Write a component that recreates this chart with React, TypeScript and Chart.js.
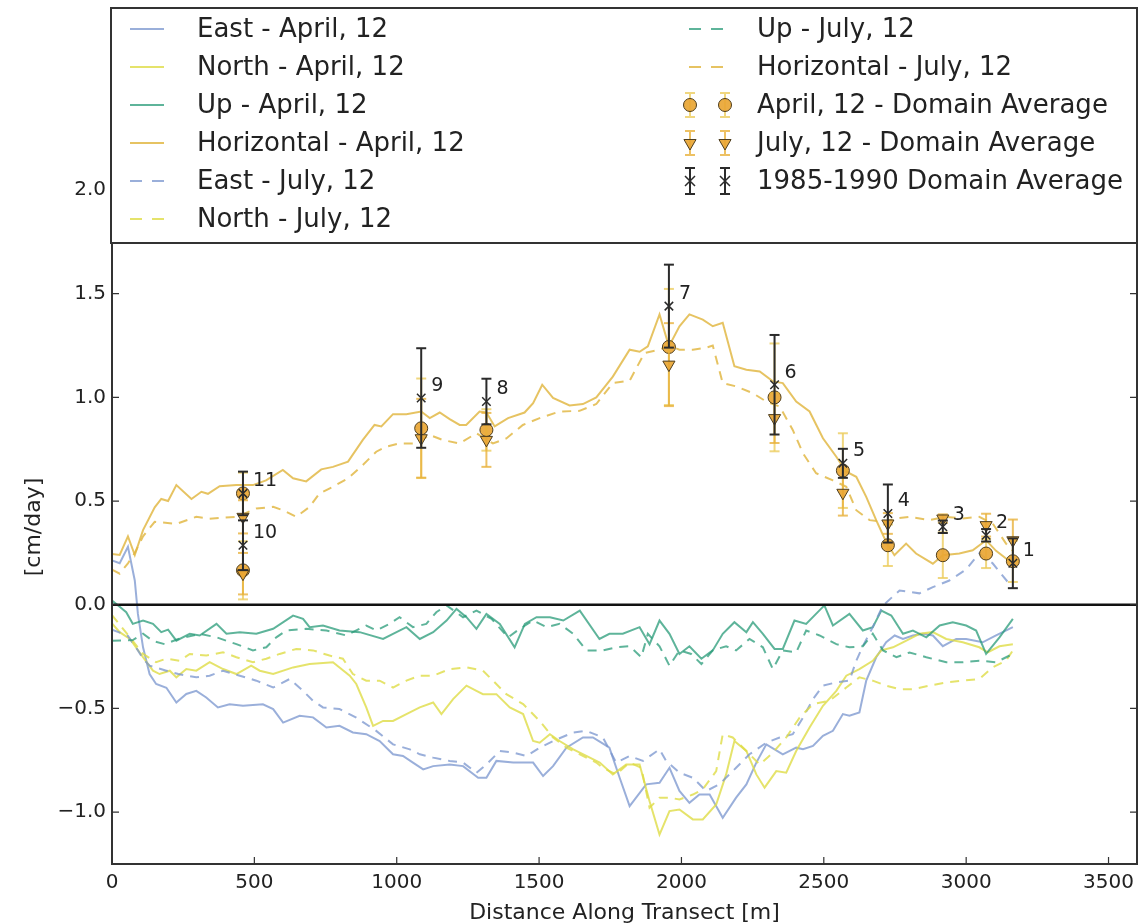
import React, { useEffect, useRef } from 'react';
import { Chart, registerables } from 'chart.js';

Chart.register(...registerables);

// ---------------- DATA ----------------
const xTickValues = [0, 500, 1000, 1500, 2000, 2500, 3000, 3500];
const yTickValues = [-1.0, -0.5, 0.0, 0.5, 1.0, 1.5, 2.0];

// [distance along transect (m), velocity (cm/day)]
const eastApril = [[0,0.214],[27,0.2],[56,0.28],[80,0.117],[91,-0.044],[109,-0.205],[132,-0.334],[155,-0.382],[191,-0.4],[226,-0.471],[261,-0.43],[296,-0.415],[331,-0.447],[372,-0.495],[413,-0.48],[460,-0.487],[530,-0.48],[566,-0.503],[601,-0.568],[659,-0.535],[706,-0.543],[753,-0.592],[799,-0.584],[846,-0.616],[893,-0.624],[940,-0.657],[987,-0.721],[1022,-0.729],[1057,-0.761],[1093,-0.794],[1128,-0.778],[1186,-0.77],[1233,-0.778],[1286,-0.834],[1315,-0.834],[1350,-0.753],[1409,-0.761],[1479,-0.761],[1514,-0.826],[1549,-0.778],[1596,-0.689],[1654,-0.64],[1689,-0.64],[1713,-0.66],[1747,-0.689],[1783,-0.834],[1818,-0.971],[1876,-0.866],[1923,-0.858],[1958,-0.786],[1993,-0.898],[2028,-0.955],[2063,-0.915],[2099,-0.915],[2145,-1.027],[2192,-0.93],[2228,-0.866],[2263,-0.761],[2298,-0.673],[2356,-0.721],[2403,-0.689],[2427,-0.697],[2462,-0.681],[2497,-0.632],[2532,-0.608],[2567,-0.527],[2590,-0.535],[2625,-0.519],[2649,-0.366],[2684,-0.253],[2719,-0.181],[2749,-0.148],[2778,-0.165],[2813,-0.148],[2848,-0.14],[2883,-0.148],[2918,-0.2],[2965,-0.165],[3000,-0.165],[3058,-0.181],[3105,-0.148],[3164,-0.108]];

const northApril = [[0,-0.09],[27,-0.132],[63,-0.165],[109,-0.253],[144,-0.318],[167,-0.334],[203,-0.318],[226,-0.35],[261,-0.31],[296,-0.318],[343,-0.277],[390,-0.31],[437,-0.334],[489,-0.294],[519,-0.318],[566,-0.334],[636,-0.302],[694,-0.286],[776,-0.277],[835,-0.342],[858,-0.382],[893,-0.495],[917,-0.584],[952,-0.56],[987,-0.56],[1034,-0.527],[1081,-0.495],[1128,-0.471],[1157,-0.527],[1198,-0.455],[1245,-0.39],[1280,-0.415],[1303,-0.431],[1350,-0.431],[1397,-0.495],[1444,-0.527],[1479,-0.657],[1502,-0.665],[1538,-0.624],[1572,-0.657],[1620,-0.697],[1666,-0.729],[1713,-0.761],[1759,-0.818],[1806,-0.77],[1853,-0.77],[1888,-0.947],[1923,-1.108],[1958,-0.995],[1993,-0.987],[2040,-1.035],[2075,-1.035],[2122,-0.963],[2157,-0.818],[2186,-0.657],[2228,-0.705],[2263,-0.818],[2292,-0.882],[2333,-0.802],[2368,-0.81],[2403,-0.705],[2450,-0.592],[2497,-0.487],[2544,-0.415],[2579,-0.342],[2625,-0.31],[2672,-0.27],[2702,-0.22],[2743,-0.205],[2790,-0.173],[2836,-0.14],[2883,-0.132],[2930,-0.165],[2988,-0.181],[3046,-0.205],[3076,-0.229],[3117,-0.2],[3164,-0.19]];

const upApril = [[0,0.02],[27,-0.01],[50,-0.036],[73,-0.092],[109,-0.076],[144,-0.092],[173,-0.132],[197,-0.12],[226,-0.173],[273,-0.14],[308,-0.148],[367,-0.092],[402,-0.14],[449,-0.132],[507,-0.14],[566,-0.116],[636,-0.052],[671,-0.068],[694,-0.108],[741,-0.1],[799,-0.124],[870,-0.132],[952,-0.165],[987,-0.14],[1034,-0.108],[1081,-0.165],[1128,-0.132],[1175,-0.076],[1210,-0.02],[1245,-0.06],[1280,-0.116],[1315,-0.044],[1362,-0.092],[1414,-0.205],[1450,-0.092],[1491,-0.06],[1538,-0.06],[1585,-0.076],[1643,-0.028],[1712,-0.165],[1747,-0.14],[1794,-0.14],[1853,-0.108],[1888,-0.19],[1923,-0.076],[1958,-0.14],[1993,-0.237],[2028,-0.2],[2070,-0.26],[2110,-0.22],[2145,-0.14],[2186,-0.084],[2228,-0.132],[2251,-0.084],[2286,-0.14],[2327,-0.213],[2356,-0.213],[2397,-0.076],[2438,-0.092],[2502,-0.003],[2532,-0.1],[2590,-0.044],[2637,-0.124],[2672,-0.108],[2702,-0.028],[2737,-0.052],[2778,-0.14],[2813,-0.124],[2860,-0.157],[2907,-0.1],[2953,-0.084],[3000,-0.1],[3035,-0.124],[3070,-0.237],[3117,-0.157],[3164,-0.068]];

const horizApril = [[0,0.245],[27,0.24],[56,0.33],[80,0.24],[109,0.36],[150,0.47],[173,0.51],[197,0.5],[226,0.577],[279,0.51],[314,0.545],[337,0.535],[378,0.572],[437,0.577],[495,0.577],[541,0.6],[600,0.65],[636,0.61],[682,0.595],[735,0.653],[776,0.665],[829,0.69],[881,0.795],[922,0.867],[946,0.86],[987,0.919],[1034,0.919],[1086,0.932],[1116,0.9],[1151,0.927],[1186,0.895],[1221,0.867],[1244,0.867],[1291,0.932],[1315,0.927],[1344,0.86],[1391,0.9],[1449,0.927],[1479,0.972],[1511,1.061],[1549,0.997],[1607,0.961],[1654,0.968],[1701,1.0],[1759,1.1],[1818,1.23],[1853,1.22],[1882,1.246],[1923,1.4],[1956,1.246],[1993,1.343],[2028,1.4],[2075,1.375],[2110,1.343],[2145,1.36],[2186,1.15],[2228,1.133],[2275,1.125],[2321,1.077],[2356,1.069],[2403,0.98],[2450,0.932],[2497,0.803],[2544,0.714],[2579,0.642],[2614,0.617],[2649,0.52],[2684,0.408],[2719,0.303],[2748,0.239],[2789,0.295],[2824,0.247],[2883,0.198],[2918,0.239],[2976,0.247],[3023,0.263],[3070,0.311],[3105,0.26],[3164,0.198]];

const eastJuly = [[0,-0.12],[56,-0.15],[91,-0.22],[109,-0.26],[132,-0.294],[191,-0.318],[233,-0.334],[296,-0.35],[343,-0.342],[390,-0.318],[449,-0.342],[507,-0.366],[566,-0.399],[624,-0.358],[671,-0.415],[706,-0.463],[741,-0.495],[799,-0.503],[858,-0.544],[928,-0.608],[987,-0.673],[1046,-0.697],[1081,-0.721],[1128,-0.737],[1186,-0.753],[1233,-0.761],[1280,-0.81],[1315,-0.77],[1362,-0.705],[1409,-0.713],[1456,-0.729],[1502,-0.689],[1549,-0.657],[1620,-0.616],[1666,-0.608],[1724,-0.64],[1771,-0.761],[1818,-0.729],[1865,-0.753],[1923,-0.697],[1946,-0.753],[1993,-0.81],[2040,-0.834],[2087,-0.898],[2133,-0.866],[2192,-0.786],[2239,-0.721],[2298,-0.665],[2345,-0.64],[2391,-0.624],[2427,-0.544],[2462,-0.455],[2497,-0.39],[2544,-0.374],[2590,-0.366],[2614,-0.27],[2637,-0.2],[2672,-0.108],[2708,-0.003],[2766,0.069],[2836,0.055],[2883,0.085],[2941,0.117],[3000,0.17],[3046,0.248],[3093,0.2],[3152,0.1],[3164,0.08]];

const northJuly = [[0,-0.05],[63,-0.157],[109,-0.237],[155,-0.277],[191,-0.26],[238,-0.27],[273,-0.237],[331,-0.245],[390,-0.229],[437,-0.253],[495,-0.277],[542,-0.26],[589,-0.237],[647,-0.213],[706,-0.22],[764,-0.245],[811,-0.26],[846,-0.334],[893,-0.366],[940,-0.366],[987,-0.399],[1034,-0.366],[1081,-0.342],[1128,-0.342],[1186,-0.31],[1245,-0.302],[1303,-0.318],[1338,-0.366],[1385,-0.431],[1444,-0.479],[1502,-0.56],[1549,-0.64],[1596,-0.689],[1643,-0.721],[1701,-0.761],[1724,-0.786],[1771,-0.818],[1818,-0.761],[1859,-0.786],[1888,-0.979],[1923,-0.93],[1958,-0.93],[1993,-0.939],[2040,-0.915],[2075,-0.89],[2122,-0.802],[2145,-0.624],[2180,-0.64],[2228,-0.705],[2275,-0.77],[2321,-0.713],[2368,-0.64],[2415,-0.544],[2462,-0.479],[2520,-0.463],[2579,-0.399],[2625,-0.35],[2672,-0.366],[2719,-0.39],[2766,-0.407],[2813,-0.407],[2871,-0.39],[2930,-0.374],[2988,-0.366],[3046,-0.358],[3093,-0.302],[3140,-0.27],[3164,-0.22]];

const upJuly = [[0,-0.173],[73,-0.17],[109,-0.14],[144,-0.175],[185,-0.19],[233,-0.165],[308,-0.14],[367,-0.157],[437,-0.19],[495,-0.22],[542,-0.205],[577,-0.157],[612,-0.124],[682,-0.116],[753,-0.124],[823,-0.148],[893,-0.1],[928,-0.124],[975,-0.092],[1010,-0.06],[1057,-0.108],[1104,-0.092],[1139,-0.036],[1175,-0.003],[1233,-0.06],[1280,-0.028],[1333,-0.068],[1391,-0.157],[1432,-0.116],[1479,-0.076],[1526,-0.108],[1572,-0.092],[1620,-0.14],[1666,-0.22],[1724,-0.22],[1771,-0.205],[1818,-0.2],[1859,-0.253],[1882,-0.14],[1923,-0.2],[1958,-0.294],[1993,-0.22],[2034,-0.237],[2070,-0.286],[2110,-0.22],[2157,-0.2],[2192,-0.22],[2239,-0.165],[2286,-0.205],[2321,-0.31],[2356,-0.22],[2403,-0.23],[2438,-0.124],[2485,-0.148],[2544,-0.19],[2590,-0.205],[2637,-0.2],[2672,-0.14],[2708,-0.22],[2755,-0.253],[2801,-0.23],[2860,-0.253],[2930,-0.277],[2988,-0.277],[3046,-0.27],[3105,-0.277],[3164,-0.237]];

const horizJuly = [[0,0.17],[27,0.15],[56,0.2],[80,0.25],[109,0.33],[150,0.4],[226,0.39],[296,0.424],[343,0.415],[437,0.424],[507,0.464],[566,0.472],[600,0.456],[647,0.424],[694,0.472],[729,0.537],[776,0.569],[829,0.61],[881,0.674],[928,0.738],[963,0.762],[1010,0.778],[1069,0.778],[1116,0.819],[1163,0.794],[1221,0.778],[1280,0.827],[1338,0.778],[1385,0.802],[1443,0.867],[1502,0.9],[1572,0.932],[1642,0.935],[1701,0.968],[1759,1.069],[1818,1.08],[1870,1.214],[1923,1.23],[1956,1.25],[1993,1.23],[2040,1.23],[2087,1.24],[2110,1.25],[2145,1.069],[2192,1.053],[2251,1.02],[2298,0.98],[2345,0.956],[2391,0.843],[2427,0.73],[2473,0.634],[2532,0.6],[2579,0.569],[2614,0.456],[2661,0.408],[2708,0.4],[2755,0.416],[2801,0.424],[2871,0.408],[2930,0.424],[2988,0.416],[3046,0.424],[3093,0.392],[3140,0.295],[3164,0.26]];

// Domain averages at sites 1..11
const siteLabels = ['1', '2', '3', '4', '5', '6', '7', '8', '9', '10', '11'];
const siteDist = [3164, 3070, 2918, 2725, 2567, 2327, 1956, 1315, 1086, 460, 460];
const aprilAvg = [0.21, 0.247, 0.239, 0.287, 0.647, 1.0, 1.243, 0.843, 0.851, 0.166, 0.537];
const aprilErr = [0.1, 0.07, 0.11, 0.1, 0.18, 0.26, 0.28, 0.1, 0.24, 0.14, 0.1];
const julyAvg = [0.311, 0.384, 0.416, 0.392, 0.54, 0.9, 1.158, 0.795, 0.803, 0.15, 0.424];
const julyErr = [0.1, 0.055, 0.02, 0.05, 0.11, 0.12, 0.2, 0.13, 0.19, 0.1, 0.08];
const histAvg = [0.2, 0.335, 0.376, 0.44, 0.682, 1.061, 1.44, 0.98, 0.997, 0.287, 0.537];
const histErr = [0.12, 0.03, 0.03, 0.14, 0.07, 0.24, 0.2, 0.11, 0.24, 0.12, 0.105];

// ---------------- STYLE ----------------
const FONT = "'DejaVu Sans', 'Liberation Sans', sans-serif";
const C_EAST = 'rgba(120,148,205,0.75)';
const C_NORTH = 'rgba(222,220,70,0.8)';
const C_UP = 'rgba(40,155,120,0.75)';
const C_HORIZ = 'rgba(226,185,70,0.85)';
const C_APR_ERR = 'rgba(236,205,95,0.8)';
const C_JUL_ERR = 'rgba(232,178,60,0.8)';
const C_HIST = '#2b2b2b';
const C_MARK = 'rgba(233,166,52,0.92)';
const C_MARK_EDGE = '#4d3d1e';
const DASH = [9, 7];

const toPts = (arr: number[][]) => arr.map(([x, y]) => ({ x, y }));
const errPts = (d: number[], v: number[], e: number[]) =>
  d.flatMap((x, i) => [
    { x, y: v[i] - e[i] },
    { x, y: v[i] + e[i] },
    { x, y: null as any },
  ]);
const avgPts = (d: number[], v: number[]) => d.map((x, i) => ({ x, y: v[i] }));

const fmtY = (v: number) => (v < 0 ? '\u2212' : '') + Math.abs(v).toFixed(1);

function drawMarker(ctx: CanvasRenderingContext2D, kind: string, x: number, y: number) {
  ctx.save();
  ctx.setLineDash([]);
  if (kind === 'circle') {
    ctx.beginPath();
    ctx.arc(x, y, 6.5, 0, Math.PI * 2);
    ctx.fillStyle = C_MARK;
    ctx.fill();
    ctx.strokeStyle = C_MARK_EDGE;
    ctx.lineWidth = 1;
    ctx.stroke();
  } else if (kind === 'tri') {
    const r = 7;
    ctx.beginPath();
    ctx.moveTo(x - r * 0.866, y - r * 0.5);
    ctx.lineTo(x + r * 0.866, y - r * 0.5);
    ctx.lineTo(x, y + r);
    ctx.closePath();
    ctx.fillStyle = C_MARK;
    ctx.fill();
    ctx.strokeStyle = C_MARK_EDGE;
    ctx.lineWidth = 1;
    ctx.stroke();
  } else {
    const r = 5;
    ctx.beginPath();
    ctx.moveTo(x - r, y - r);
    ctx.lineTo(x + r, y + r);
    ctx.moveTo(x + r, y - r);
    ctx.lineTo(x - r, y + r);
    ctx.strokeStyle = C_HIST;
    ctx.lineWidth = 1.5;
    ctx.stroke();
  }
  ctx.restore();
}

function drawErr(ctx: CanvasRenderingContext2D, x: number, y: number, h: number, color: string) {
  ctx.save();
  ctx.setLineDash([]);
  ctx.strokeStyle = color;
  ctx.lineWidth = 2;
  ctx.beginPath();
  ctx.moveTo(x, y - h);
  ctx.lineTo(x, y + h);
  ctx.moveTo(x - 5, y - h);
  ctx.lineTo(x + 5, y - h);
  ctx.moveTo(x - 5, y + h);
  ctx.lineTo(x + 5, y + h);
  ctx.stroke();
  ctx.restore();
}

const legendLeft = [
  { label: 'East - April, 12', color: C_EAST, dash: false },
  { label: 'North - April, 12', color: C_NORTH, dash: false },
  { label: 'Up - April, 12', color: C_UP, dash: false },
  { label: 'Horizontal - April, 12', color: C_HORIZ, dash: false },
  { label: 'East - July, 12', color: C_EAST, dash: true },
  { label: 'North - July, 12', color: C_NORTH, dash: true },
];
const legendRight = [
  { label: 'Up - July, 12', kind: 'line', color: C_UP },
  { label: 'Horizontal - July, 12', kind: 'line', color: C_HORIZ },
  { label: 'April, 12 - Domain Average', kind: 'circle', color: C_APR_ERR },
  { label: 'July, 12 - Domain Average', kind: 'tri', color: C_JUL_ERR },
  { label: '1985-1990 Domain Average', kind: 'x', color: C_HIST },
];

const decorPlugin = {
  id: 'decor',
  afterDatasetsDraw(chart: any) {
    const { ctx, chartArea, scales } = chart;
    const xs = scales.x;
    const ys = scales.y;
    // zero line
    const y0 = ys.getPixelForValue(0);
    ctx.save();
    ctx.strokeStyle = '#111';
    ctx.lineWidth = 2.5;
    ctx.beginPath();
    ctx.moveTo(chartArea.left, y0);
    ctx.lineTo(chartArea.right, y0);
    ctx.stroke();
    // site numbers
    ctx.fillStyle = '#222';
    ctx.font = `19px ${FONT}`;
    ctx.textAlign = 'left';
    ctx.textBaseline = 'middle';
    siteLabels.forEach((lab, i) => {
      const px = xs.getPixelForValue(siteDist[i]);
      const py = ys.getPixelForValue(histAvg[i]);
      ctx.fillText(lab, px + 10, py - 12);
    });
    ctx.restore();
  },
  afterDraw(chart: any) {
    const { ctx, chartArea, scales } = chart;
    const { left, right, top, bottom } = chartArea;
    ctx.save();
    // spines
    ctx.strokeStyle = '#333';
    ctx.lineWidth = 2;
    ctx.strokeRect(left, top, right - left, bottom - top);
    // tick marks (inward)
    ctx.lineWidth = 1.2;
    ctx.beginPath();
    xTickValues.forEach((v) => {
      const px = scales.x.getPixelForValue(v);
      ctx.moveTo(px, bottom);
      ctx.lineTo(px, bottom - 7);
    });
    yTickValues.forEach((v) => {
      const py = scales.y.getPixelForValue(v);
      ctx.moveTo(left, py);
      ctx.lineTo(left + 7, py);
      ctx.moveTo(right, py);
      ctx.lineTo(right - 7, py);
    });
    ctx.stroke();

    // legend
    const bx = 111, by = 8, bw = right - 111, bh = 243 - 8;
    ctx.fillStyle = '#ffffff';
    ctx.fillRect(bx, by, bw, bh);
    ctx.strokeStyle = '#333';
    ctx.lineWidth = 2;
    ctx.strokeRect(bx, by, bw, bh);
    ctx.font = `26px ${FONT}`;
    ctx.textAlign = 'left';
    ctx.textBaseline = 'middle';
    const rowY = (i: number) => 29 + 38 * i;
    legendLeft.forEach((it, i) => {
      const y = rowY(i);
      ctx.save();
      ctx.strokeStyle = it.color;
      ctx.lineWidth = 2;
      ctx.setLineDash(it.dash ? [12, 10] : []);
      ctx.beginPath();
      ctx.moveTo(130, y);
      ctx.lineTo(164, y);
      ctx.stroke();
      ctx.restore();
      ctx.fillStyle = '#222';
      ctx.fillText(it.label, 197, y + 1);
    });
    legendRight.forEach((it, i) => {
      const y = rowY(i);
      if (it.kind === 'line') {
        ctx.save();
        ctx.strokeStyle = it.color;
        ctx.lineWidth = 2;
        ctx.setLineDash([12, 10]);
        ctx.beginPath();
        ctx.moveTo(689, y);
        ctx.lineTo(724, y);
        ctx.stroke();
        ctx.restore();
      } else {
        [690, 725].forEach((mx) => {
          drawErr(ctx, mx, y, it.kind === 'x' ? 13 : 12, it.color);
          drawMarker(ctx, it.kind, mx, y);
        });
      }
      ctx.fillStyle = '#222';
      ctx.fillText(it.label, 757, y + 1);
    });
    ctx.restore();
  },
};

export default function App() {
  const ref = useRef<HTMLCanvasElement | null>(null);

  useEffect(() => {
    if (!ref.current) return;
    Chart.defaults.font.family = FONT;
    const lineDs = (label: string, arr: number[][], color: string, dashed: boolean, order: number) => ({
      type: 'line',
      label,
      data: toPts(arr),
      borderColor: color,
      backgroundColor: color,
      borderWidth: 2,
      borderDash: dashed ? DASH : [],
      pointRadius: 0,
      pointHoverRadius: 0,
      fill: false,
      tension: 0,
      order,
    });
    const errDs = (label: string, d: number[], v: number[], e: number[], color: string, order: number) => ({
      type: 'line',
      label,
      data: errPts(d, v, e),
      borderColor: color,
      backgroundColor: color,
      borderWidth: 2,
      pointStyle: 'line',
      pointRadius: 5,
      pointHoverRadius: 5,
      pointBorderColor: color,
      pointBorderWidth: 2,
      spanGaps: false,
      fill: false,
      order,
    });
    const chart = new Chart(ref.current, {
      type: 'line',
      data: {
        datasets: [
          lineDs('East - April, 12', eastApril, C_EAST, false, 40),
          lineDs('North - April, 12', northApril, C_NORTH, false, 39),
          lineDs('Up - April, 12', upApril, C_UP, false, 38),
          lineDs('Horizontal - April, 12', horizApril, C_HORIZ, false, 37),
          lineDs('East - July, 12', eastJuly, C_EAST, true, 36),
          lineDs('North - July, 12', northJuly, C_NORTH, true, 35),
          lineDs('Up - July, 12', upJuly, C_UP, true, 34),
          lineDs('Horizontal - July, 12', horizJuly, C_HORIZ, true, 33),
          errDs('April err', siteDist, aprilAvg, aprilErr, C_APR_ERR, 26),
          {
            type: 'line',
            label: 'April, 12 - Domain Average',
            data: avgPts(siteDist, aprilAvg),
            showLine: false,
            pointStyle: 'circle',
            pointRadius: 6.5,
            pointHoverRadius: 6.5,
            pointBackgroundColor: C_MARK,
            pointBorderColor: C_MARK_EDGE,
            pointBorderWidth: 1,
            order: 25,
          },
          errDs('July err', siteDist, julyAvg, julyErr, C_JUL_ERR, 24),
          {
            type: 'line',
            label: 'July, 12 - Domain Average',
            data: avgPts(siteDist, julyAvg),
            showLine: false,
            pointStyle: 'triangle',
            pointRotation: 180,
            pointRadius: 7,
            pointHoverRadius: 7,
            pointBackgroundColor: C_MARK,
            pointBorderColor: C_MARK_EDGE,
            pointBorderWidth: 1,
            order: 23,
          },
          errDs('Hist err', siteDist, histAvg, histErr, C_HIST, 22),
          {
            type: 'line',
            label: '1985-1990 Domain Average',
            data: avgPts(siteDist, histAvg),
            showLine: false,
            pointStyle: 'crossRot',
            pointRadius: 6,
            pointHoverRadius: 6,
            pointBorderColor: C_HIST,
            pointBorderWidth: 1.5,
            order: 21,
          },
        ] as any,
      },
      options: {
        responsive: false,
        animation: false,
        devicePixelRatio: 1,
        events: [],
        layout: { autoPadding: false, padding: { left: 0, right: 2, top: 190, bottom: 0 } },
        plugins: {
          legend: { display: false },
          tooltip: { enabled: false },
        },
        scales: {
          x: {
            type: 'linear',
            min: 0,
            max: 3600,
            grid: { display: false, drawTicks: false },
            border: { display: false },
            ticks: {
              autoSkip: false,
              maxRotation: 0,
              padding: 7,
              color: '#222',
              font: { size: 20, family: FONT },
              callback: (v: any) => String(v),
            },
            afterBuildTicks: (s: any) => {
              s.ticks = xTickValues.map((v) => ({ value: v }));
            },
            afterFit: (s: any) => {
              s.height = 60;
              s.paddingLeft = 0;
              s.paddingRight = 0;
            },
            title: {
              display: true,
              text: 'Distance Along Transect [m]',
              color: '#222',
              font: { size: 22, family: FONT, lineHeight: 1 },
              padding: { top: 0, bottom: 0 },
            },
          },
          y: {
            type: 'linear',
            min: -1.25,
            max: 2.0,
            grid: { display: false, drawTicks: false },
            border: { display: false },
            ticks: {
              autoSkip: false,
              padding: 6,
              color: '#222',
              font: { size: 20, family: FONT },
              callback: (v: any) => fmtY(Number(v)),
            },
            afterBuildTicks: (s: any) => {
              s.ticks = yTickValues.map((v) => ({ value: v }));
            },
            afterFit: (s: any) => {
              s.width = 112;
              s.paddingTop = 0;
              s.paddingBottom = 0;
            },
            title: {
              display: true,
              text: '[cm/day]',
              color: '#222',
              font: { size: 22, family: FONT, lineHeight: 1 },
              padding: { top: 23, bottom: 0 },
            },
          },
        },
      } as any,
      plugins: [decorPlugin],
    });
    return () => chart.destroy();
  }, []);

  return (
    <div style={{ position: 'fixed', left: 0, top: 0, width: 1139, height: 924, background: '#ffffff' }}>
      <canvas ref={ref} width={1139} height={924} style={{ display: 'block', width: 1139, height: 924 }} />
    </div>
  );
}
